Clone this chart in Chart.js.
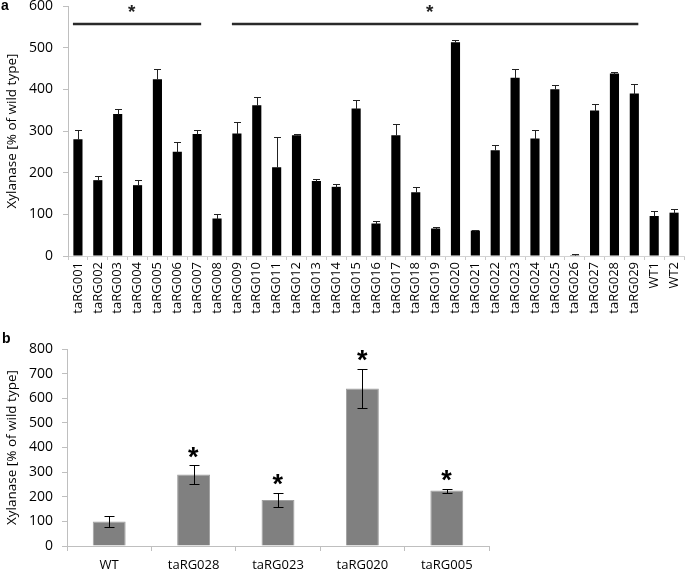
<!DOCTYPE html>
<html><head><meta charset="utf-8">
<script src="https://cdn.jsdelivr.net/npm/chart.js@4"></script>
<style>
html,body{margin:0;padding:0;background:#fff;width:685px;height:570px;overflow:hidden;}
#wa{position:absolute;left:0;top:0;width:685px;height:330px;}
#wb{position:absolute;left:0;top:330px;width:685px;height:240px;}
.pl{position:absolute;font:bold 14px "Liberation Sans",Arial,sans-serif;color:#000;line-height:14px;}
</style></head><body>
<div id="wa"><canvas id="ca"></canvas></div>
<div id="wb"><canvas id="cb"></canvas></div>
<div class="pl" style="left:1px;top:-2px">a</div>
<div class="pl" style="left:2px;top:331px">b</div>
<script>
// ---------- Panel a data ----------
const catsA = ['taRG001','taRG002','taRG003','taRG004','taRG005','taRG006','taRG007','taRG008','taRG009','taRG010',
  'taRG011','taRG012','taRG013','taRG014','taRG015','taRG016','taRG017','taRG018','taRG019','taRG020',
  'taRG021','taRG022','taRG023','taRG024','taRG025','taRG026','taRG027','taRG028','taRG029','WT1','WT2'];
const valsA = [280,182,341,170,424,250,293,90,294,362,213,290,180,166,354,78,290,153,66,513,61,254,428,282,400,2,349,438,390,96,104];
const errA  = [22,11,13,12,24,23,10,12,28,20,73,3,6,8,20,5,26,13,4,6,2,12,21,21,11,2,15,4,23,11,9];
const ticksA = [0,100,200,300,400,500,600];
// significance groups (category index ranges) and line level
const sigGroupsA = [[0,6],[8,28]];
const sigLevelA = 557;

// ---------- Panel b data ----------
const catsB = ['WT','taRG028','taRG023','taRG020','taRG005'];
const valsB = [100,290,187,640,225];
const errB  = [23,38,30,80,8];
const sigB  = [false,true,true,true,true];
const ticksB = [0,100,200,300,400,500,600,700,800];

const yTitle = 'Xylanase [% of wild type]';
const FONT = "'Open Sans', 'DejaVu Sans', sans-serif";

const errPlugin = {
  id: 'err',
  afterDatasetsDraw(chart, args, o) {
    const {ctx} = chart, xs = chart.scales.x, ys = chart.scales.y;
    const vals = chart.data.datasets[0].data;
    ctx.save();
    ctx.strokeStyle = o.color; ctx.lineWidth = o.width;
    o.errors.forEach((e, i) => {
      const cx = Math.round(xs.getPixelForValue(i)) + 0.5;
      const yt = Math.round(ys.getPixelForValue(vals[i] + e)) + 0.5;
      const yb = Math.round(ys.getPixelForValue(o.both ? vals[i] - e : vals[i])) + 0.5;
      ctx.beginPath();
      ctx.moveTo(cx, yb); ctx.lineTo(cx, yt);
      ctx.moveTo(cx - o.cap / 2, yt); ctx.lineTo(cx + o.cap / 2, yt);
      if (o.both) { ctx.moveTo(cx - o.cap / 2, yb); ctx.lineTo(cx + o.cap / 2, yb); }
      ctx.stroke();
    });
    ctx.restore();
  }
};

function drawStar(ctx, cx, cy, size, color) {
  ctx.save();
  ctx.font = 'bold ' + size + "px 'Liberation Sans', Arial, sans-serif";
  ctx.fillStyle = color;
  ctx.textAlign = 'left';
  ctx.textBaseline = 'alphabetic';
  const m = ctx.measureText('*');
  const w = m.actualBoundingBoxRight + m.actualBoundingBoxLeft;
  const x = cx - w / 2 + m.actualBoundingBoxLeft;
  const y = cy + (m.actualBoundingBoxAscent - m.actualBoundingBoxDescent) / 2;
  ctx.fillText('*', x, y);
  ctx.restore();
}

const sigAPlugin = {
  id: 'sigA',
  afterDatasetsDraw(chart) {
    const {ctx} = chart, xs = chart.scales.x, ys = chart.scales.y;
    const ly = ys.getPixelForValue(sigLevelA);
    ctx.save();
    ctx.strokeStyle = '#2a2a2a'; ctx.lineWidth = 2.5;
    sigGroupsA.forEach(([a, b]) => {
      const x1 = xs.getPixelForValue(a) - 5, x2 = xs.getPixelForValue(b) + 4;
      ctx.beginPath(); ctx.moveTo(x1, ly); ctx.lineTo(x2, ly); ctx.stroke();
      drawStar(ctx, (x1 + x2) / 2 - 5, ly - 15, 19, '#222');
    });
    ctx.restore();
  }
};

const starBPlugin = {
  id: 'starB',
  afterDatasetsDraw(chart) {
    const {ctx} = chart, xs = chart.scales.x, ys = chart.scales.y;
    sigB.forEach((s, i) => {
      if (!s) return;
      const cx = xs.getPixelForValue(i);
      const cy = ys.getPixelForValue(valsB[i] + errB[i]) - 13;
      drawStar(ctx, cx, cy, 27, '#000');
    });
  }
};

new Chart(document.getElementById('ca'), {
  type: 'bar',
  data: { labels: catsA, datasets: [{ data: valsA, backgroundColor: '#000', borderWidth: 0,
    barPercentage: 0.46, categoryPercentage: 1 }] },
  options: {
    responsive: true, maintainAspectRatio: false, animation: false,
    layout: { padding: { top: 0, right: 1, left: 0, bottom: 0 } },
    plugins: { legend: { display: false }, tooltip: { enabled: false },
      err: { errors: errA, color: '#222', width: 1, cap: 7, both: false } },
    scales: {
      x: {
        grid: { display: true, drawOnChartArea: false, drawTicks: true, tickLength: 4, color: '#c8c8c8', offset: true },
        border: { display: true, color: '#d4d4d4' },
        ticks: { autoSkip: false, minRotation: 90, maxRotation: 90, padding: 2, color: '#000',
          font: { family: FONT, size: 13 } },
        afterFit: s => { s.height = 74; s.paddingLeft = 0; s.paddingRight = 0; }
      },
      y: {
        min: 0, max: 600,
        afterBuildTicks: s => { s.ticks = ticksA.map(v => ({ value: v })); },
        grid: { drawOnChartArea: false, drawTicks: true, tickLength: 5, color: '#bfbfbf' },
        border: { display: true, color: '#bfbfbf' },
        ticks: { padding: 10, color: '#000', font: { family: FONT, size: 14 } },
        title: { display: true, text: yTitle, color: '#000', font: { family: FONT, size: 13.5 }, padding: { top: 4, bottom: 0 } },
        afterFit: s => { s.width = 68; s.paddingTop = 6; s.paddingBottom = 0; }
      }
    }
  },
  plugins: [errPlugin, sigAPlugin]
});

new Chart(document.getElementById('cb'), {
  type: 'bar',
  data: { labels: catsB, datasets: [{ data: valsB, backgroundColor: '#808080', borderColor: '#a0a0a0', borderWidth: 1,
    barPercentage: 0.39, categoryPercentage: 1 }] },
  options: {
    responsive: true, maintainAspectRatio: false, animation: false,
    layout: { padding: { top: 0, right: 196, left: 0, bottom: 0 } },
    plugins: { legend: { display: false }, tooltip: { enabled: false },
      err: { errors: errB, color: '#000', width: 1, cap: 10, both: true } },
    scales: {
      x: {
        grid: { display: true, drawOnChartArea: false, drawTicks: true, tickLength: 5, color: '#bfbfbf', offset: true },
        border: { display: true, color: '#bfbfbf' },
        ticks: { autoSkip: false, maxRotation: 0, padding: 6, color: '#000', font: { family: FONT, size: 13 } },
        afterFit: s => { s.height = 24; s.paddingLeft = 0; s.paddingRight = 0; }
      },
      y: {
        min: 0, max: 800,
        afterBuildTicks: s => { s.ticks = ticksB.map(v => ({ value: v })); },
        grid: { drawOnChartArea: false, drawTicks: true, tickLength: 5, color: '#bfbfbf' },
        border: { display: true, color: '#bfbfbf' },
        ticks: { padding: 9, color: '#000', font: { family: FONT, size: 14 } },
        title: { display: true, text: yTitle, color: '#000', font: { family: FONT, size: 13.5 }, padding: { top: 4, bottom: 0 } },
        afterFit: s => { s.width = 67; s.paddingTop = 19; s.paddingBottom = 0; }
      }
    }
  },
  plugins: [errPlugin, starBPlugin]
});
</script>
</body></html>
